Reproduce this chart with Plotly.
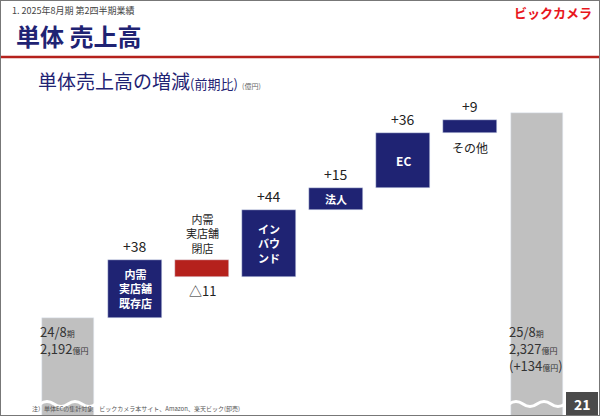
import plotly.graph_objects as go

categories = ["24/8期", "内需実店舗既存店", "内需実店舗閉店", "インバウンド", "法人", "EC", "その他", "25/8期"]
start_value = 2192
end_value = 2327
deltas = [38, -11, 44, 15, 36, 9]
delta_labels = ["+38", "△11", "+44", "+15", "+36", "+9"]
inner_labels = ["内需<br>実店舗<br>既存店", "", "イン<br>バウ<br>ンド", "法人", "EC", ""]
axis_floor = 2127

NAVY = "#1f2373"
RED = "#b5211c"
GRAY = "#c0c0c0"
F = "Noto Sans CJK JP"

fig = go.Figure()
fig.add_bar(x=[0, 7], y=[start_value - axis_floor, end_value - axis_floor], base=axis_floor,
            marker_color=GRAY, width=0.78, hoverinfo="skip")
bases, heights, colors = [], [], []
cum = start_value
for d in deltas:
    lo = cum if d >= 0 else cum + d
    bases.append(lo); heights.append(abs(d))
    colors.append(NAVY if d >= 0 else RED)
    cum += d
fig.add_bar(x=list(range(1, 7)), y=heights, base=bases, marker_color=colors, width=0.8, hoverinfo="skip")

ann = []
cum = start_value
for i, d in enumerate(deltas):
    x = i + 1
    top = max(cum, cum + d); bot = min(cum, cum + d)
    if d >= 0:
        ann.append(dict(x=x, y=top, text=delta_labels[i], yanchor="bottom", yshift=2,
                        showarrow=False, font=dict(size=14, color="#222", family=F)))
        if inner_labels[i]:
            ann.append(dict(x=x, y=(top + bot) / 2, text="<b>" + inner_labels[i] + "</b>",
                            showarrow=False, font=dict(size=11 if i != 4 else 12, color="white", family=F)))
    else:
        ann.append(dict(x=x, y=bot, text=delta_labels[i], yanchor="top", yshift=-2,
                        showarrow=False, font=dict(size=13, color="#222", family=F)))
        ann.append(dict(x=x, y=top, text="内需<br>実店舗<br>閉店", yanchor="bottom", yshift=2,
                        showarrow=False, font=dict(size=11, color="#222", family=F)))
    cum += d
ann.append(dict(x=6, y=cum - 9, text="その他", yanchor="top", yshift=-4, showarrow=False,
                font=dict(size=12, color="#222", family=F)))

ann.append(dict(x=-0.45, y=start_value, xanchor="left", yanchor="top", yshift=-2, align="left",
                text="24/8<span style='font-size:8px'>期</span><br>2,192<span style='font-size:8px'>億円</span>",
                showarrow=False, font=dict(size=13, color="#333", family=F)))
ann.append(dict(x=6.55, y=start_value, xanchor="left", yanchor="top", yshift=-2, align="left",
                text="25/8<span style='font-size:8px'>期</span><br>2,327<span style='font-size:8px'>億円</span><br>(+134<span style='font-size:8px'>億円</span>)",
                showarrow=False, font=dict(size=13, color="#333", family=F)))

def pa(x, y, text, size, color, xa="left", ya="middle", bold=False):
    ann.append(dict(xref="paper", yref="paper", x=x, y=y, xanchor=xa, yanchor=ya, showarrow=False,
                    text=("<b>%s</b>" % text) if bold else text, font=dict(size=size, color=color, family=F)))

pa(10 / 600, 1 - 10 / 416, "1. 2025年8月期 第2四半期業績", 9, "#444")
pa(14 / 600, 1 - 35 / 416, "単体 売上高", 24, NAVY, bold=True)
pa(594 / 600, 1 - 12 / 416, "ビックカメラ", 13, "#e8161d", xa="right", bold=True)
pa(36 / 600, 1 - 80 / 416, "単体売上高の増減<span style='font-size:13px'>(前期比)</span> <span style='font-size:7px;color:#666'>(億円)</span>", 19, NAVY)
pa(30 / 600, 1 - 408 / 416, "注）単体ECの集計対象　ビックカメラ本サイト、Amazon、楽天ビック(卸売)", 6, "#555")
pa(582 / 600, 1 - 404 / 416, "<b>21</b>", 14, "white", xa="center")

shapes = [
    dict(type="line", xref="paper", yref="paper", x0=0, x1=1, y0=1 - 57 / 416, y1=1 - 57 / 416,
         line=dict(color=RED, width=2.5)),
    dict(type="rect", xref="paper", yref="paper", x0=566 / 600, x1=598 / 600, y0=0, y1=24 / 416,
         fillcolor="#4a4a4a", line_width=0, layer="below"),
    dict(type="rect", xref="paper", yref="paper", x0=0, x1=1, y0=0, y1=1,
         line=dict(color="#777", width=2)),
]
for xc in (68, 537):
    x0 = (xc - 28) / 600; x1 = (xc + 28) / 600; w = x1 - x0
    y0 = 1 - 404 / 416; amp = 5 / 416
    p = "M %f,%f Q %f,%f %f,%f Q %f,%f %f,%f Q %f,%f %f,%f Q %f,%f %f,%f" % (
        x0, y0, x0 + w / 8, y0 + amp, x0 + w / 4, y0, x0 + 3 * w / 8, y0 - amp, x0 + w / 2, y0,
        x0 + 5 * w / 8, y0 + amp, x0 + 3 * w / 4, y0, x0 + 7 * w / 8, y0 - amp, x1, y0)
    shapes.append(dict(type="path", xref="paper", yref="paper", path=p, line=dict(color="white", width=3)))

fig.update_layout(
    width=600, height=416, margin=dict(l=0, r=0, t=0, b=0),
    paper_bgcolor="white", plot_bgcolor="white", showlegend=False, bargap=0,
    xaxis=dict(range=[-1.015, 7.94], visible=False, fixedrange=True),
    yaxis=dict(range=[axis_floor, axis_floor + 275], visible=False, fixedrange=True),
    annotations=ann, shapes=shapes,
)
fig.write_html("out.html", config={"displayModeBar": False},
               post_script="document.body.style.margin='0';document.body.style.overflow='hidden';")
